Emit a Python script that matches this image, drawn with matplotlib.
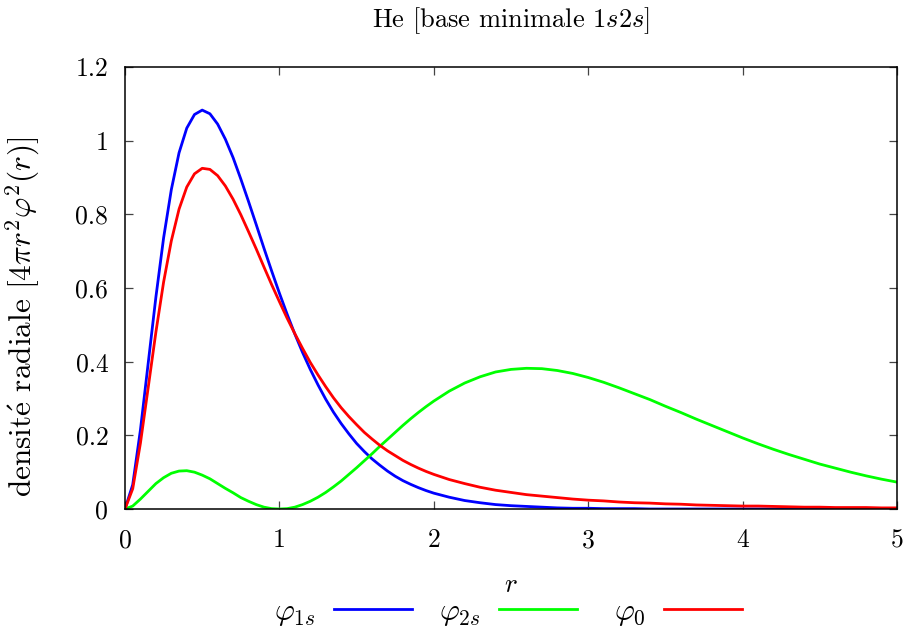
import matplotlib
matplotlib.use("Agg")
import matplotlib.pyplot as plt

# r grid (pas 0.05 jusqu'a 2, puis 0.1)
r = [0.00, 0.05, 0.10, 0.15, 0.20, 0.25, 0.30, 0.35, 0.40, 0.45,
     0.50, 0.55, 0.60, 0.65, 0.70, 0.75, 0.80, 0.85, 0.90, 0.95,
     1.00, 1.05, 1.10, 1.15, 1.20, 1.25, 1.30, 1.35, 1.40, 1.45,
     1.50, 1.55, 1.60, 1.65, 1.70, 1.75, 1.80, 1.85, 1.90, 1.95,
     2.00, 2.1, 2.2, 2.3, 2.4, 2.5, 2.6, 2.7, 2.8, 2.9,
     3.0, 3.1, 3.2, 3.3, 3.4, 3.5, 3.6, 3.7, 3.8, 3.9,
     4.0, 4.1, 4.2, 4.3, 4.4, 4.5, 4.6, 4.7, 4.8, 4.9, 5.0]

# densites radiales 4 pi r^2 phi^2(r)
phi_1s = [0.000, 0.066, 0.215, 0.395, 0.575, 0.736, 0.867, 0.967, 1.034, 1.071,
          1.083, 1.073, 1.045, 1.004, 0.954, 0.896, 0.835, 0.772, 0.708, 0.646,
          0.586, 0.529, 0.475, 0.425, 0.379, 0.337, 0.298, 0.263, 0.232, 0.204,
          0.178, 0.156, 0.136, 0.119, 0.103, 0.089, 0.077, 0.067, 0.058, 0.050,
          0.043, 0.032, 0.023, 0.017, 0.012, 0.009, 0.007, 0.005, 0.003, 0.002,
          0.002, 0.001, 0.001, 0.001, 0.000, 0.000, 0.000, 0.000, 0.000, 0.000,
          0.000, 0.000, 0.000, 0.000, 0.000, 0.000, 0.000, 0.000, 0.000, 0.000, 0.000]

phi_2s = [0.000, 0.008, 0.027, 0.048, 0.069, 0.085, 0.097, 0.103, 0.104, 0.100,
          0.092, 0.082, 0.069, 0.056, 0.044, 0.031, 0.021, 0.012, 0.005, 0.001,
          0.000, 0.001, 0.005, 0.012, 0.021, 0.032, 0.045, 0.060, 0.076, 0.094,
          0.112, 0.131, 0.150, 0.170, 0.189, 0.208, 0.227, 0.245, 0.262, 0.278,
          0.293, 0.320, 0.342, 0.359, 0.372, 0.379, 0.382, 0.381, 0.376, 0.368,
          0.357, 0.344, 0.329, 0.313, 0.297, 0.279, 0.262, 0.244, 0.227, 0.210,
          0.193, 0.177, 0.162, 0.148, 0.135, 0.122, 0.111, 0.100, 0.090, 0.081, 0.073]

phi_0 = [0.000, 0.055, 0.179, 0.329, 0.480, 0.616, 0.728, 0.814, 0.874, 0.910,
         0.925, 0.922, 0.905, 0.877, 0.841, 0.799, 0.753, 0.706, 0.657, 0.609,
         0.563, 0.518, 0.476, 0.436, 0.398, 0.364, 0.332, 0.302, 0.275, 0.251,
         0.229, 0.208, 0.190, 0.173, 0.158, 0.145, 0.132, 0.121, 0.111, 0.102,
         0.094, 0.080, 0.069, 0.059, 0.051, 0.045, 0.039, 0.035, 0.031, 0.027,
         0.024, 0.022, 0.019, 0.017, 0.016, 0.014, 0.013, 0.011, 0.010, 0.009,
         0.008, 0.008, 0.007, 0.006, 0.005, 0.005, 0.004, 0.004, 0.004, 0.003, 0.003]

xticks = [0, 1, 2, 3, 4, 5]
xticklabels = ['0', '1', '2', '3', '4', '5']
yticks = [0, 0.2, 0.4, 0.6, 0.8, 1.0, 1.2]
yticklabels = ['0', '0.2', '0.4', '0.6', '0.8', '1', '1.2']

plt.rcParams['mathtext.fontset'] = 'cm'
plt.rcParams['font.family'] = 'cmr10'
plt.rcParams['axes.formatter.use_mathtext'] = True

fs = 18.5
fig = plt.figure(figsize=(9.07, 6.34), dpi=100)
ax = fig.add_axes([125/907, 1-509/634, 772/907, 442/634])

l1, = ax.plot(r, phi_1s, color='#0000ff', lw=2.0)
l2, = ax.plot(r, phi_2s, color='#00ff00', lw=2.0)
l0, = ax.plot(r, phi_0, color='#ff0000', lw=2.0)

ax.set_xlim(0, 5)
ax.set_ylim(0, 1.2)
ax.set_xticks(xticks, xticklabels)
ax.set_yticks(yticks, yticklabels)
ax.tick_params(direction='in', length=5.5, width=0.9, color='#444444',
               top=True, right=True, labelsize=fs)
ax.tick_params(axis='x', pad=14)
ax.tick_params(axis='y', pad=12)
for s in ax.spines.values():
    s.set_linewidth(1.1)

ax.set_title(r'He [base minimale $1s2s$]', fontsize=fs + 0.5, pad=29)
ax.set_xlabel(r'$r$', fontsize=fs + 1)
ax.xaxis.set_label_coords(0.5, -0.145)
ax.set_ylabel(r'densit$\acute{\rm e}$ radiale [$4\pi r^2\varphi^2(r)$]', fontsize=22.5)
ax.yaxis.set_label_coords(-0.1075, 0.434)

# legende a la gnuplot : texte puis echantillon
lfs = 22
em = lfs * 100 / 72
for line, lab, xend in [(l1, r'$\varphi_{1s}$', 412), (l2, r'$\varphi_{2s}$', 577),
                        (l0, r'$\varphi_0$', 742)]:
    fig.legend(handles=[line], labels=[lab], loc='center right',
               bbox_to_anchor=(xend / 907, 1 - 613 / 634), frameon=False,
               markerfirst=False, borderpad=0, borderaxespad=0,
               handlelength=78 / em, handletextpad=18 / em, fontsize=lfs)

fig.savefig('out.png')
